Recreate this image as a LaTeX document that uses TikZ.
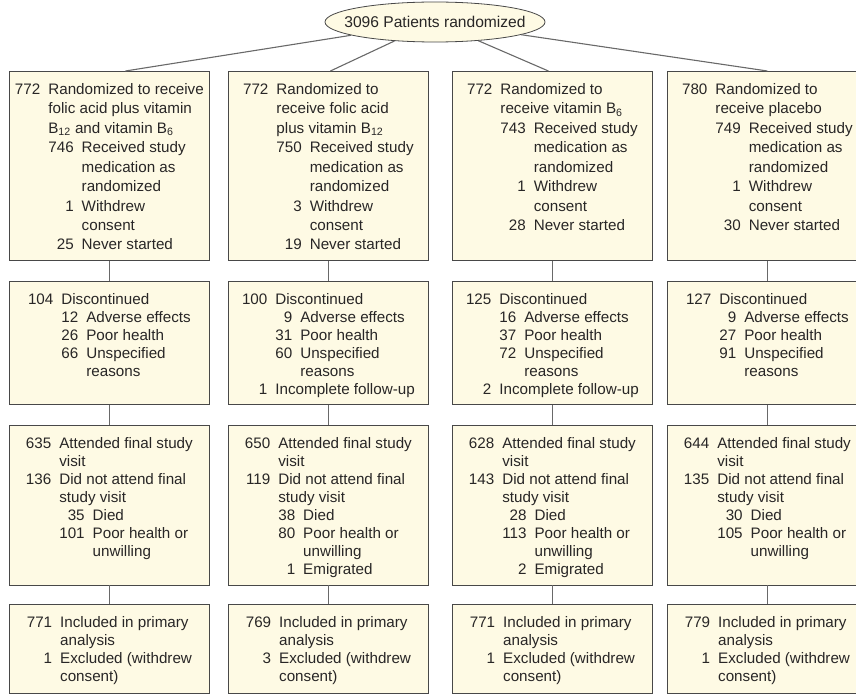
\documentclass[tikz,border=0pt]{standalone}
\usepackage{fontspec}
\setmainfont{Liberation Sans}
\usepackage{xcolor}
\usetikzlibrary{shapes.geometric,positioning}

\definecolor{cream}{RGB}{254,250,228}
\definecolor{edge}{RGB}{72,72,72}
\definecolor{wire}{RGB}{105,105,105}
\definecolor{ink}{RGB}{40,38,38}

% box contents: number column, sub-number column, text column
\setlength{\tabcolsep}{0pt}
\newcommand{\tbl}[1]{\begin{tabular}[t]{r@{\hspace{8pt}}r@{\hspace{8pt}}l}#1\end{tabular}}
\newcommand{\lone}[2]{#1 & \multicolumn{2}{l}{#2}\\}
\newcommand{\cone}[1]{& \multicolumn{2}{l}{#1}\\}
\newcommand{\ltwo}[2]{& #1 & #2\\}
\newcommand{\ctwo}[1]{& & #1\\}

\begin{document}
\begin{tikzpicture}[x=1pt, y=-1pt,
    box/.style={rectangle, draw=edge, fill=cream, line width=0.8pt, minimum width=200pt,
        inner sep=0pt, text height=23pt, text=ink, font=\fontsize{15.2}{18}\selectfont},
    armbox/.style={box, anchor=north west, text depth=166pt,
        font=\fontsize{15.2}{18}\selectfont\def\arraystretch{1.08}},
    discbox/.style={box, text depth=100pt},
    visitbox/.style={box, text depth=137pt},
    anabox/.style={box, text depth=66pt},
    wire/.style={draw=wire, line width=1.1pt}]
    \clip (0,0) rectangle (856,698);

    % Randomization
    \node[ellipse, draw=edge, fill=cream, line width=0.8pt, minimum width=220pt, minimum height=40pt,
        inner sep=0pt, text=ink, font=\fontsize{15.6}{18}\selectfont] (pat) at (435,22)
        {\makebox[0pt]{3096 Patients randomized}};

    % Allocation
    \node[armbox] (armA) at (9,71) {\tbl{
        \lone{772}{Randomized to receive}
        \cone{folic acid plus vitamin}
        \cone{B\textsubscript{12} and vitamin B\textsubscript{6}}
        \ltwo{746}{Received study}
        \ctwo{medication as}
        \ctwo{randomized}
        \ltwo{1}{Withdrew}
        \ctwo{consent}
        \ltwo{25}{Never started}}};
    \node[armbox] (armB) at (228,71) {\tbl{
        \lone{772}{Randomized to}
        \cone{receive folic acid}
        \cone{plus vitamin B\textsubscript{12}}
        \ltwo{750}{Received study}
        \ctwo{medication as}
        \ctwo{randomized}
        \ltwo{3}{Withdrew}
        \ctwo{consent}
        \ltwo{19}{Never started}}};
    \node[armbox] (armC) at (452,71) {\tbl{
        \lone{772}{Randomized to}
        \cone{receive vitamin B\textsubscript{6}}
        \ltwo{743}{Received study}
        \ctwo{medication as}
        \ctwo{randomized}
        \ltwo{1}{Withdrew}
        \ctwo{consent}
        \ltwo{28}{Never started}}};
    \node[armbox] (armD) at (667,71) {\tbl{
        \lone{780}{Randomized to}
        \cone{receive placebo}
        \ltwo{749}{Received study}
        \ctwo{medication as}
        \ctwo{randomized}
        \ltwo{1}{Withdrew}
        \ctwo{consent}
        \ltwo{30}{Never started}}};

    % Discontinuation
    \node[discbox, below=20pt of armA] (discA) {\tbl{
        \lone{104}{Discontinued}
        \ltwo{12}{Adverse effects}
        \ltwo{26}{Poor health}
        \ltwo{66}{Unspecified}
        \ctwo{reasons}}};
    \node[discbox, below=20pt of armB] (discB) {\tbl{
        \lone{100}{Discontinued}
        \ltwo{9}{Adverse effects}
        \ltwo{31}{Poor health}
        \ltwo{60}{Unspecified}
        \ctwo{reasons}
        \lone{1}{Incomplete follow-up}}};
    \node[discbox, below=20pt of armC] (discC) {\tbl{
        \lone{125}{Discontinued}
        \ltwo{16}{Adverse effects}
        \ltwo{37}{Poor health}
        \ltwo{72}{Unspecified}
        \ctwo{reasons}
        \lone{2}{Incomplete follow-up}}};
    \node[discbox, below=20pt of armD] (discD) {\tbl{
        \lone{127}{Discontinued}
        \ltwo{9}{Adverse effects}
        \ltwo{27}{Poor health}
        \ltwo{91}{Unspecified}
        \ctwo{reasons}}};

    % Final study visit
    \node[visitbox, below=20pt of discA] (visitA) {\tbl{
        \lone{635}{Attended final study}
        \cone{visit}
        \lone{136}{Did not attend final}
        \cone{study visit}
        \ltwo{35}{Died}
        \ltwo{101}{Poor health or}
        \ctwo{unwilling}}};
    \node[visitbox, below=20pt of discB] (visitB) {\tbl{
        \lone{650}{Attended final study}
        \cone{visit}
        \lone{119}{Did not attend final}
        \cone{study visit}
        \ltwo{38}{Died}
        \ltwo{80}{Poor health or}
        \ctwo{unwilling}
        \ltwo{1}{Emigrated}}};
    \node[visitbox, below=20pt of discC] (visitC) {\tbl{
        \lone{628}{Attended final study}
        \cone{visit}
        \lone{143}{Did not attend final}
        \cone{study visit}
        \ltwo{28}{Died}
        \ltwo{113}{Poor health or}
        \ctwo{unwilling}
        \ltwo{2}{Emigrated}}};
    \node[visitbox, below=20pt of discD] (visitD) {\tbl{
        \lone{644}{Attended final study}
        \cone{visit}
        \lone{135}{Did not attend final}
        \cone{study visit}
        \ltwo{30}{Died}
        \ltwo{105}{Poor health or}
        \ctwo{unwilling}}};

    % Analysis
    \node[anabox, below=19pt of visitA] (anaA) {\tbl{
        \lone{771}{Included in primary}
        \cone{analysis}
        \lone{1}{Excluded (withdrew}
        \cone{consent)}}};
    \node[anabox, below=19pt of visitB] (anaB) {\tbl{
        \lone{769}{Included in primary}
        \cone{analysis}
        \lone{3}{Excluded (withdrew}
        \cone{consent)}}};
    \node[anabox, below=19pt of visitC] (anaC) {\tbl{
        \lone{771}{Included in primary}
        \cone{analysis}
        \lone{1}{Excluded (withdrew}
        \cone{consent)}}};
    \node[anabox, below=19pt of visitD] (anaD) {\tbl{
        \lone{779}{Included in primary}
        \cone{analysis}
        \lone{1}{Excluded (withdrew}
        \cone{consent)}}};

    % Connectors
    \draw[wire] (pat) -- ([xshift=16pt]armA.north);
    \draw[wire] (pat) -- ([xshift=2pt]armB.north);
    \draw[wire] (pat) -- ([xshift=-4pt]armC.north);
    \draw[wire] (pat) -- (armD.north);
    \foreach \g in {A,B,C,D} {
        \draw[wire] (arm\g) -- (disc\g);
        \draw[wire] (disc\g) -- (visit\g);
        \draw[wire] (visit\g) -- (ana\g);
    }
\end{tikzpicture}
\end{document}
